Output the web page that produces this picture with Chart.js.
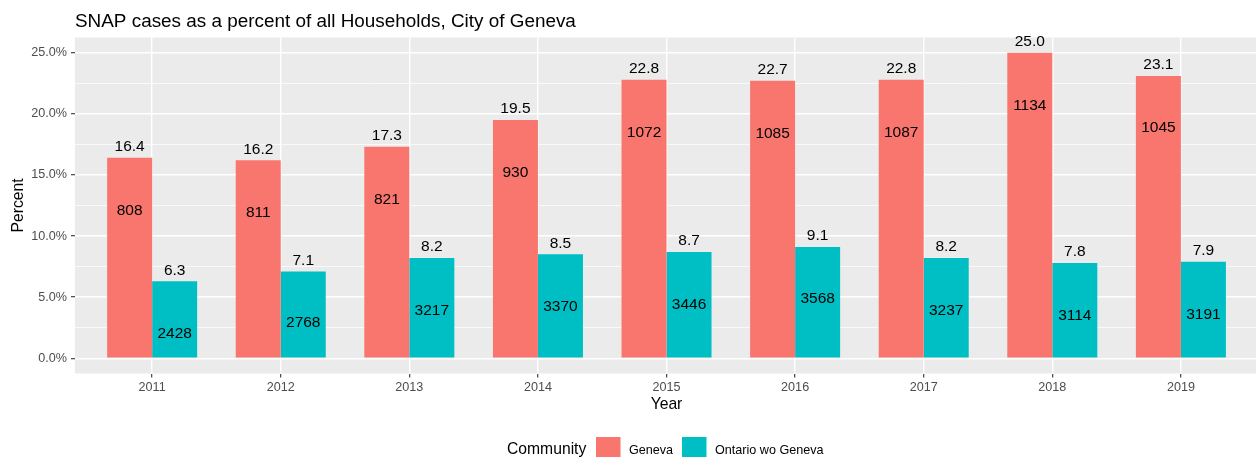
<!DOCTYPE html>
<html>
<head>
<meta charset="utf-8">
<script src="https://cdn.jsdelivr.net/npm/chart.js@4.4.1/dist/chart.umd.min.js"></script>
<style>
  html, body { margin: 0; padding: 0; background: #fff; }
  #wrap { width: 1256px; height: 457px; }
</style>
</head>
<body>
<div id="wrap"><canvas id="snapChart" width="1256" height="457"></canvas></div>
<script>
// Data
const years = ['2011', '2012', '2013', '2014', '2015', '2016', '2017', '2018', '2019'];
const genevaPct = [16.4, 16.2, 17.3, 19.5, 22.8, 22.7, 22.8, 25.0, 23.1];
const ontarioPct = [6.3, 7.1, 8.2, 8.5, 8.7, 9.1, 8.2, 7.8, 7.9];
const genevaCases = [808, 811, 821, 930, 1072, 1085, 1087, 1134, 1045];
const ontarioCases = [2428, 2768, 3217, 3370, 3446, 3568, 3237, 3114, 3191];
// height (in percent units) where the case counts are written
const genevaCaseY = [12.05, 11.9, 12.95, 15.15, 18.45, 18.35, 18.45, 20.65, 18.85];
const ontarioCaseY = [2.0, 2.9, 3.85, 4.2, 4.35, 4.85, 3.85, 3.45, 3.55];
const yTicks = [0, 5, 10, 15, 20, 25];
const yMinorTicks = [2.5, 7.5, 12.5, 17.5, 22.5];

const FONT = '"Liberation Sans", Arial, Helvetica, sans-serif';
const RED = '#F8766D';
const TEAL = '#00BFC4';

const isMajor = v => yTicks.includes(v);

// grey panel, titles and legend in ggplot style
const decor = {
    id: 'decor',
    beforeDraw(chart) {
        const {ctx, chartArea: a} = chart;
        ctx.save();
        ctx.fillStyle = '#EBEBEB';
        ctx.fillRect(a.left, a.top, a.right - a.left, a.bottom - a.top);
        ctx.restore();
    },
    afterDraw(chart) {
        const {ctx, chartArea: a} = chart;
        ctx.save();
        ctx.fillStyle = '#000';
        ctx.textBaseline = 'alphabetic';

        ctx.font = '18.9px ' + FONT;
        ctx.textAlign = 'left';
        ctx.fillText('SNAP cases as a percent of all Households, City of Geneva', 75, 27);

        ctx.font = '15.7px ' + FONT;
        ctx.textAlign = 'center';
        ctx.fillText('Year', (a.left + 1258) / 2, 408.5);

        ctx.save();
        ctx.translate(23, (a.top + a.bottom) / 2);
        ctx.rotate(-Math.PI / 2);
        ctx.fillText('Percent', 0, 0);
        ctx.restore();

        // legend
        ctx.textAlign = 'left';
        ctx.fillText('Community', 507, 454);
        ctx.fillStyle = RED;
        ctx.fillRect(596, 437, 24.5, 24.5);
        ctx.fillStyle = TEAL;
        ctx.fillRect(682, 437, 24.5, 24.5);
        ctx.fillStyle = '#000';
        ctx.font = '12.6px ' + FONT;
        ctx.fillText(chart.data.datasets[0].label, 629, 454);
        ctx.fillText(chart.data.datasets[1].label, 715, 454);
        ctx.restore();
    },
    afterDatasetsDraw(chart) {
        const {ctx} = chart;
        const yScale = chart.scales.y;
        const caseY = [genevaCaseY, ontarioCaseY];
        const cases = [genevaCases, ontarioCases];
        ctx.save();
        ctx.fillStyle = '#000';
        ctx.font = '15.5px ' + FONT;
        ctx.textAlign = 'center';
        ctx.textBaseline = 'middle';
        chart.data.datasets.forEach((ds, di) => {
            chart.getDatasetMeta(di).data.forEach((bar, i) => {
                ctx.fillText(ds.data[i].y.toFixed(1), bar.x, bar.y - 11);
                ctx.fillText(String(cases[di][i]), bar.x, yScale.getPixelForValue(caseY[di][i]));
            });
        });
        ctx.restore();
    }
};

new Chart(document.getElementById('snapChart').getContext('2d'), {
    type: 'bar',
    data: {
        datasets: [
            {
                label: 'Geneva',
                data: genevaPct.map((v, i) => ({x: i + 1, y: v})),
                backgroundColor: RED
            },
            {
                label: 'Ontario wo Geneva',
                data: ontarioPct.map((v, i) => ({x: i + 1, y: v})),
                backgroundColor: TEAL
            }
        ]
    },
    options: {
        responsive: false,
        animation: false,
        devicePixelRatio: 1,
        categoryPercentage: 0.7,
        barPercentage: 1.0,
        layout: { padding: { left: 0, right: 0, top: 37.5, bottom: 0 } },
        plugins: {
            legend: { display: false },
            title: { display: false },
            tooltip: { enabled: false }
        },
        scales: {
            x: {
                type: 'linear',
                offset: false,
                min: 0.4,
                max: 9.584,
                afterFit: s => { s.height = 83.5; },
                afterBuildTicks: s => { s.ticks = years.map((y, i) => ({value: i + 1})); },
                border: { display: false },
                grid: {
                    offset: false,
                    color: '#FFFFFF',
                    lineWidth: 1.4,
                    tickColor: '#333333',
                    tickLength: 4,
                    tickWidth: 1.1
                },
                ticks: {
                    color: '#4D4D4D',
                    font: { family: FONT, size: 12.6 },
                    padding: 2,
                    maxRotation: 0,
                    callback: v => years[v - 1]
                }
            },
            y: {
                min: -1.25,
                max: 26.25,
                afterFit: s => { s.width = 75; },
                afterBuildTicks: s => {
                    s.ticks = yTicks.concat(yMinorTicks).sort((p, q) => p - q).map(v => ({value: v}));
                },
                border: { display: false },
                grid: {
                    color: '#FFFFFF',
                    lineWidth: c => isMajor(c.tick.value) ? 1.4 : 0.7,
                    tickColor: c => isMajor(c.tick.value) ? '#333333' : 'rgba(0,0,0,0)',
                    tickLength: 4,
                    tickWidth: 1.1
                },
                ticks: {
                    color: '#4D4D4D',
                    font: { family: FONT, size: 12.6 },
                    padding: 4,
                    callback: v => isMajor(v) ? v.toFixed(1) + '%' : ''
                }
            }
        }
    },
    plugins: [decor]
});
</script>
</body>
</html>
